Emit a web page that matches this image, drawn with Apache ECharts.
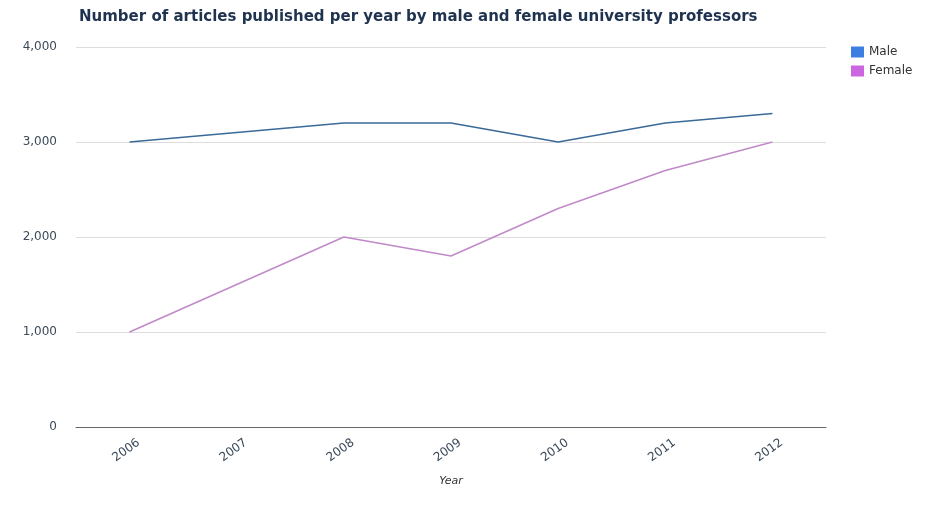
<!DOCTYPE html>
<html><head><meta charset="utf-8">
<script src="https://cdn.jsdelivr.net/npm/echarts@6/dist/echarts.min.js"></script>
<style>html,body{margin:0;padding:0;background:#fff}#c{width:934px;height:517px}</style>
</head><body><div id="c"></div>
<script>
const years = ['2006','2007','2008','2009','2010','2011','2012'];
const maleValues = [3000, 3100, 3200, 3200, 3000, 3200, 3300];
const femaleValues = [1000, 1500, 2000, 1800, 2300, 2700, 3000];
const yTicks = [0, 1000, 2000, 3000, 4000];

const FONT = 'DejaVu Sans';
const chart = echarts.init(document.getElementById('c'));
chart.setOption({
  backgroundColor: '#fff',
  animation: false,
  title: {
    text: 'Number of articles published per year by male and female university professors',
    left: 74, top: 5,
    textStyle: {fontFamily: FONT, fontSize: 15, fontWeight: 'bold', color: '#1f3350'}
  },
  legend: {
    orient: 'vertical', left: 846, top: 41, itemGap: 7,
    itemWidth: 13, itemHeight: 11, icon: 'rect',
    textStyle: {fontFamily: FONT, fontSize: 12, color: '#333'},
    data: [
      {name: 'Male', itemStyle: {color: '#3d7fe0'}},
      {name: 'Female', itemStyle: {color: '#cc66e0'}}
    ]
  },
  grid: {left: 76, right: 108, top: 47, bottom: 90},
  xAxis: {
    type: 'category', data: years, boundaryGap: true,
    name: 'Year', nameLocation: 'middle', nameGap: 49,
    nameTextStyle: {fontFamily: FONT, fontSize: 11, fontStyle: 'italic', color: '#333'},
    axisLine: {lineStyle: {color: '#666', width: 1}},
    axisTick: {show: false},
    axisLabel: {rotate: 36, margin: 21, align: 'center', verticalAlign: 'middle',
      padding: [0, 8, 0, 0],
      fontFamily: FONT, fontSize: 12, color: '#3a4a5a'}
  },
  yAxis: {
    type: 'value', min: yTicks[0], max: yTicks[yTicks.length-1], interval: 1000,
    axisLine: {show: false}, axisTick: {show: false},
    axisLabel: {margin: 19, fontFamily: FONT, fontSize: 12, color: '#3a4a5a',
      formatter: v => v.toLocaleString('en-US')},
    splitLine: {lineStyle: {color: '#dddddd', width: 1}}
  },
  series: [
    {name: 'Male', type: 'line', data: maleValues, showSymbol: false, symbol: 'none',
     itemStyle: {color: '#3d7fe0'}, lineStyle: {color: '#3a6a98', width: 1.5}},
    {name: 'Female', type: 'line', data: femaleValues, showSymbol: false, symbol: 'none',
     itemStyle: {color: '#cc66e0'}, lineStyle: {color: '#c08ac8', width: 1.5}}
  ]
});
</script></body></html>
